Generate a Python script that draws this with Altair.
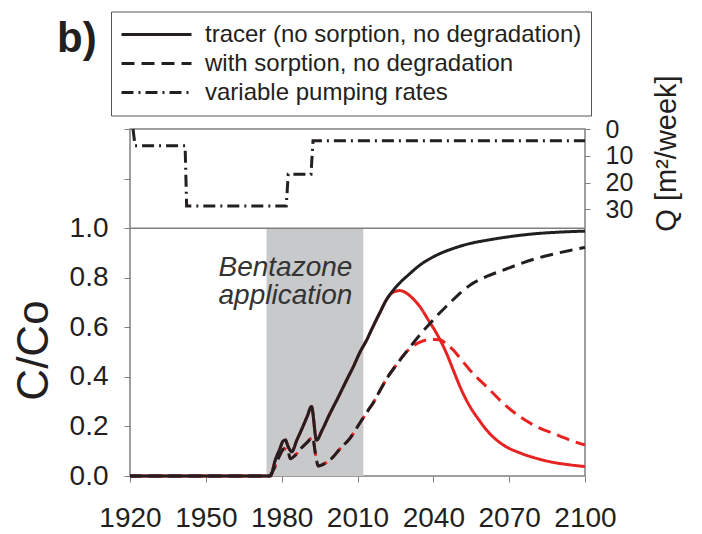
import altair as alt
import pandas as pd

LBL_TRACER = "tracer (no sorption, no degradation)"
LBL_SORB = "with sorption, no degradation"
LBL_PUMP = "variable pumping rates"

# tracer, no degradation (black solid)
tracer_years = [1920, 1974, 1975.5, 1977.5, 1979.3, 1980.5, 1981.5, 1982.5, 1984, 1986,
                1988, 1990, 1991.8, 1993.8, 1996, 1999, 2002, 2005.7, 2008.3, 2011,
                2013.6, 2016, 2018.9, 2021.5, 2024.2, 2027, 2030, 2034.7, 2041.3, 2047.9,
                2054.5, 2061.1, 2067.7, 2080.9, 2090, 2100]
tracer_c = [0, 0, 0, 0.065, 0.11, 0.14, 0.145, 0.12, 0.098, 0.145,
            0.19, 0.238, 0.28, 0.145, 0.185, 0.25, 0.31, 0.387, 0.44, 0.50,
            0.548, 0.60, 0.66, 0.712, 0.75, 0.782, 0.81, 0.851, 0.891, 0.918,
            0.938, 0.951, 0.962, 0.978, 0.984, 0.988]

# tracer with degradation (red solid)
tracer_deg_years = [1920, 1974, 1975.5, 1977.5, 1979.3, 1980.5, 1981.5, 1982.5, 1984, 1986,
                    1988, 1990, 1991.8, 1993.8, 1996, 1999, 2002, 2005.7, 2008.3, 2011,
                    2013.6, 2016, 2018.9, 2021.5, 2024.2, 2026.8, 2029, 2031.5, 2034.7, 2038,
                    2041.3, 2045, 2047.9, 2051, 2054.5, 2058, 2061.1, 2067.7, 2074.3, 2080.9,
                    2087.4, 2094, 2100]
tracer_deg_c = [0, 0, 0, 0.065, 0.11, 0.14, 0.145, 0.12, 0.098, 0.145,
                0.19, 0.238, 0.28, 0.145, 0.185, 0.25, 0.31, 0.387, 0.44, 0.50,
                0.548, 0.60, 0.66, 0.712, 0.742, 0.748, 0.74, 0.72, 0.683, 0.63,
                0.575, 0.50, 0.427, 0.35, 0.28, 0.227, 0.185, 0.125, 0.093, 0.071,
                0.055, 0.045, 0.038]

# with sorption, no degradation (black dashed)
sorb_years = [1920, 1975, 1977, 1979.3, 1981, 1982.3, 1983.5, 1985.5, 1988, 1990,
              1992.3, 1993.2, 1994.5, 1996, 1999.8, 2003.1, 2007, 2011, 2013.9, 2016.5,
              2018.9, 2022, 2025.5, 2030, 2034.7, 2038.7, 2041.3, 2045.3, 2047.9, 2054.5,
              2061.1, 2067.7, 2074.3, 2080.9, 2087.4, 2094, 2100]
sorb_c = [0, 0, 0.03, 0.085, 0.11, 0.105, 0.07, 0.085, 0.115, 0.135,
          0.155, 0.10, 0.04, 0.045, 0.071, 0.11, 0.152, 0.215, 0.26, 0.30,
          0.345, 0.40, 0.45, 0.51, 0.57, 0.616, 0.645, 0.686, 0.712, 0.77,
          0.805, 0.831, 0.856, 0.878, 0.895, 0.91, 0.922]

# with sorption and degradation (red dashed)
sorb_deg_years = [1920, 1975, 1977, 1979.3, 1981, 1982.3, 1983.5, 1985.5, 1988, 1990,
                  1992.3, 1993.2, 1994.5, 1996, 1999.8, 2003.1, 2007, 2011, 2013.9, 2016.5,
                  2018.9, 2022, 2025.5, 2028, 2030.8, 2034.7, 2038.7, 2042.6, 2045, 2047.9,
                  2051, 2054.5, 2058, 2061.1, 2067.7, 2074.3, 2080.9, 2087.4, 2094, 2100]
sorb_deg_c = [0, 0, 0.03, 0.085, 0.11, 0.105, 0.07, 0.085, 0.115, 0.135,
              0.155, 0.10, 0.04, 0.045, 0.071, 0.11, 0.152, 0.215, 0.26, 0.30,
              0.345, 0.40, 0.45, 0.485, 0.515, 0.54, 0.551, 0.55, 0.535, 0.508,
              0.47, 0.427, 0.39, 0.36, 0.293, 0.239, 0.199, 0.172, 0.145, 0.125]

# variable pumping rates Q [m2/week]
pump_years = [1921.2, 1922.0, 1941.8, 1942.4, 1981.8, 1982.6, 1991.6, 1992.4, 2100]
pump_q = [0, 6.3, 6.3, 28.8, 28.8, 16.9, 16.9, 4.4, 4.4]

# Bentazone application period
band_start = [1974]
band_end = [2012.3]

x_ticks = [1920, 1950, 1980, 2010, 2040, 2070, 2100]
c_ticks = [0, 0.2, 0.4, 0.6, 0.8, 1.0, 1.2, 1.4]
q_ticks = [0, 10, 20, 30]

TXT = "#231f20"
GRAYLINE = "#808080"
RED = "#e52421"
FONT = "Liberation Sans"


def series(years, vals, kind, name="c"):
    return pd.DataFrame({"year": years, name: vals, "kind": kind,
                         "idx": list(range(len(years)))})


df_tracer = series(tracer_years, tracer_c, LBL_TRACER)
df_tracer_deg = series(tracer_deg_years, tracer_deg_c, LBL_TRACER)
df_sorb = series(sorb_years, sorb_c, LBL_SORB)
df_sorb_deg = series(sorb_deg_years, sorb_deg_c, LBL_SORB)
df_pump = series(pump_years, pump_q, LBL_PUMP, name="q")
df_band = pd.DataFrame({"year": band_start, "x1": band_end, "y0": [0.0], "y1": [1.0]})
df_sep = pd.DataFrame({"c": [1.0]})
df_note = pd.DataFrame({"year": [1981.5, 1981.5], "c": [0.806, 0.692],
                        "t": ["Bentazone", "application"]})
df_panel = pd.DataFrame({"t": ["b)"]})

x_scale = alt.Scale(domain=[1920, 2100], nice=False, zero=False)
x_axis = alt.Axis(values=x_ticks, format="d", title=None, domain=False, grid=False,
                  tickSize=6, tickColor=GRAYLINE, tickWidth=1,
                  labelFontSize=28, labelColor=TXT, labelPadding=22,
                  labelFlush=False, labelOverlap=False)
X = alt.X("year:Q", scale=x_scale, axis=x_axis)

c_scale = alt.Scale(domain=[0, 1.4], nice=False, zero=False)
c_axis = alt.Axis(values=c_ticks, title="C/Co", domain=False, grid=False,
                  labelExpr="datum.value <= 1.001 ? format(datum.value, '.1f') : ''",
                  tickSize=6, tickColor=GRAYLINE, tickWidth=1,
                  labelFontSize=28, labelColor=TXT, labelPadding=16,
                  titleFontSize=44, titleFontWeight="normal", titleColor=TXT,
                  titleAngle=270, titleX=-96, titleY=221,
                  titleAlign="center", titleBaseline="middle")

dash = alt.StrokeDash(
    "kind:N",
    scale=alt.Scale(domain=[LBL_TRACER, LBL_SORB, LBL_PUMP],
                    range=[[1, 0], [13, 7], [12, 5, 2, 5]]),
    legend=alt.Legend(title=None, orient="none", legendX=-19, legendY=-117.5,
                      direction="vertical", symbolType="stroke", symbolSize=4900,
                      symbolStrokeWidth=3, symbolStrokeColor=TXT, clipHeight=28,
                      labelFontSize=24, labelColor=TXT, labelLimit=600,
                      labelOffset=12, padding=9, rowPadding=1,
                      strokeColor="#555555", fillColor="white"))

band = alt.Chart(df_band).mark_rect(color="#c8c9cb").encode(
    x=X, x2="x1:Q",
    y=alt.Y("y0:Q", scale=c_scale, axis=c_axis), y2="y1:Q")

sep = alt.Chart(df_sep).mark_rule(color=GRAYLINE, strokeWidth=1.5).encode(
    y=alt.Y("c:Q", scale=c_scale))


def curve(df, color, offset=0):
    return alt.Chart(df).mark_line(color=color, strokeWidth=3, interpolate="monotone",
                                   strokeDashOffset=offset).encode(
        x=X, y=alt.Y("c:Q", scale=c_scale), strokeDash=dash, order="idx:Q")


red_solid = curve(df_tracer_deg, RED)
red_dash = curve(df_sorb_deg, RED)
black_solid = curve(df_tracer, TXT)
black_dash = curve(df_sorb, TXT, offset=2)

note = alt.Chart(df_note).mark_text(fontSize=28, fontStyle="italic", color="#333333",
                                    align="center", baseline="alphabetic").encode(
    x=X, y=alt.Y("c:Q", scale=c_scale), text="t:N")

panel = alt.Chart(df_panel).mark_text(fontSize=42, fontWeight="bold", color=TXT,
                                      align="left", baseline="alphabetic").encode(
    x=alt.value(-73), y=alt.value(-77), text="t:N")

main = alt.layer(band, sep, red_solid, red_dash, black_solid, black_dash, note, panel)

pump = alt.Chart(df_pump).mark_line(color=TXT, strokeWidth=3).encode(
    x=X,
    y=alt.Y("q:Q", scale=alt.Scale(domain=[0, 129.6], reverse=True, nice=False, zero=False),
            axis=alt.Axis(orient="right", values=q_ticks, title="Q [m²/week]",
                          domain=False, grid=False, tickSize=5, tickColor=GRAYLINE,
                          labelFontSize=25, labelColor=TXT, labelPadding=15,
                          titleFontSize=29, titleFontWeight="normal", titleColor=TXT,
                          titleAngle=270, titleX=81, titleY=24, titleLimit=400,
                          titleAlign="center", titleBaseline="middle")),
    strokeDash=dash, order="idx:Q")

chart = alt.layer(main, pump).resolve_scale(y="independent").properties(
    width=455, height=347,
    padding={"left": 122, "top": 121, "right": 109, "bottom": 56},
    autosize=alt.AutoSizeParams(type="none"),
).configure(font=FONT).configure_view(stroke=GRAYLINE, strokeWidth=1.5)

chart.save("out.html", embed_options={"renderer": "svg", "actions": False})
